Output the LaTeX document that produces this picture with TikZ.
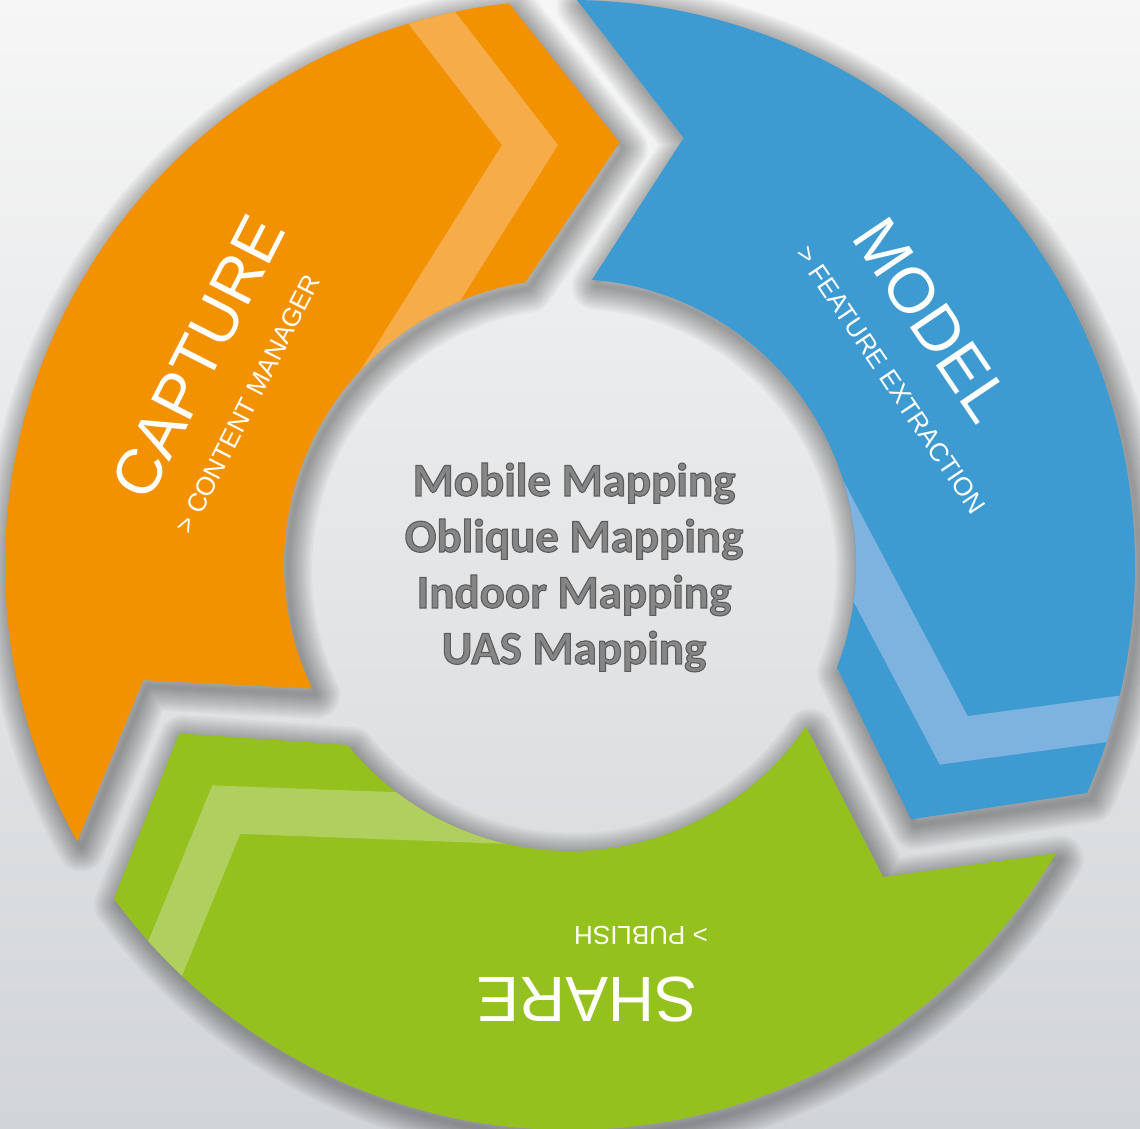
\documentclass[tikz,border=0pt]{standalone}
\usepackage{fontspec}
\setmainfont{Liberation Sans}
\newfontfamily\calib{Carlito}
\definecolor{corange}{RGB}{243,146,0}
\definecolor{corangel}{RGB}{246,172,72}
\definecolor{cblue}{RGB}{62,155,210}
\definecolor{cbluel}{RGB}{125,179,222}
\definecolor{cgreen}{RGB}{149,193,31}
\definecolor{cgreenl}{RGB}{177,207,95}
\definecolor{bgtop}{RGB}{246,246,246}
\definecolor{bgbot}{RGB}{210,213,216}
\definecolor{ctext}{RGB}{134,134,134}
\newcommand\segshape[1]{\path[#1] (209.3:565) arc[start angle=209.3,end angle=96.2,radius=565] -- (83.3:425.5) -- (99:286) arc[start angle=99,end angle=205.6,radius=286] -- (195.1:442) -- cycle;}
\newcommand\segstripe[1]{\begin{scope}\segshape{clip}\fill[#1] (-164.5,617.5) -- (-12,420) -- (-197.8,124.1) -- (-238,149.4) -- (-68,420) -- (-220.5,617.5) -- cycle;\end{scope}}
\newcommand\outlined[1]{\special{pdf:literal direct 2 Tr 1.1 w 0.36 0.36 0.36 RG}#1\special{pdf:literal direct 0 Tr}}
\tikzset{
  ttl/.style={text=white, font=\fontsize{64}{64}\selectfont, inner sep=0pt},
  sub/.style={text=white, font=\fontsize{26}{26}\selectfont, inner sep=0pt},
  ctr/.style={text=ctext, font=\calib\bfseries\fontsize{47}{47}\selectfont, anchor=base, inner sep=0pt},
  shadowstroke/.style={draw=black, draw opacity=0.032, line join=round}
}
\begin{document}
\begin{tikzpicture}[x=1pt,y=1pt]
\useasboundingbox (-570,-564) rectangle (570,565);
\shade[top color=bgtop, bottom color=bgbot] (-570,-564) rectangle (570,565);
% soft shadows
\begin{scope}[shift={(4,-6)}]
\foreach \rot in {0,-120,-240}{
  \begin{scope}[rotate=\rot]
    \foreach \w in {4,8,...,48}{\segshape{shadowstroke, line width=\w pt}}
  \end{scope}}
\end{scope}
% segments
\foreach \rot/\col/\lcol in {0/corange/corangel, -120/cblue/cbluel, -240/cgreen/cgreenl}{
  \begin{scope}[rotate=\rot]
    \segshape{fill=\col}
    \segstripe{fill=\lcol}
  \end{scope}}
% titles
\node[ttl, rotate=63] (capture) at (-372,208) {CAPTURE};
\node[sub, rotate=63] (capsub) at (-322,161) {> CONTENT MANAGER};
\node[ttl, rotate=-56] (model) at (362,245) {MODEL};
\node[sub, rotate=-56] (modsub) at (321,185) {> FEATURE EXTRACTION};
\node[ttl, rotate=180] (share) at (17,-435) {SHARE};
\node[sub, rotate=180] (shasub) at (71,-370) {> PUBLISH};
% centre text
\node[ctr] (l1) at (4,69) {\outlined{Mobile Mapping}};
\node[ctr] (l2) at (4,13) {\outlined{Oblique Mapping}};
\node[ctr] (l3) at (4,-43) {\outlined{Indoor Mapping}};
\node[ctr] (l4) at (4,-99) {\outlined{UAS Mapping}};
\end{tikzpicture}
\end{document}
